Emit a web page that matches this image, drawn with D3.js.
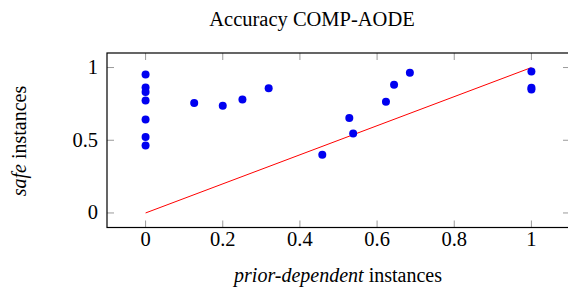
<!DOCTYPE html>
<html>
<head>
<meta charset="utf-8">
<script src="https://cdn.jsdelivr.net/npm/d3@7"></script>
<style>
  body { margin: 0; background: #fff; }
</style>
</head>
<body>
<script>
// points
const priorDep = [0, 0, 0, 0, 0, 0, 0, 0.126, 0.2, 0.251, 0.319,
  0.458, 0.528, 0.538, 0.623, 0.644, 0.685, 1, 1, 1];
const safeVals = [0.952, 0.863, 0.831, 0.774, 0.642, 0.523, 0.464, 0.756, 0.737, 0.781, 0.858,
  0.40, 0.653, 0.546, 0.765, 0.881, 0.964, 0.973, 0.861, 0.849];
const diagLine = [[0, 0], [1, 1]];
const xTicks = [0, 0.2, 0.4, 0.6, 0.8, 1];
const yTicks = [0, 0.5, 1];

const width = 568, height = 294;
const margin = { top: 53, right: -2, bottom: 66.5, left: 107 };
const serif = "'Liberation Serif', 'Times New Roman', 'DejaVu Serif', serif";

const svg = d3.select("body").append("svg")
  .attr("width", width)
  .attr("height", height)
  .attr("font-family", serif);

const x = d3.scaleLinear().domain([-0.1, 1.1]).range([margin.left, width - margin.right]);
const y = d3.scaleLinear().domain([-0.1, 1.1]).range([height - margin.bottom, margin.top]);

const tickLen = 7;
const tickCol = "#9a9a9a";

// ticks on all four sides, pointing inwards
svg.append("g").selectAll("line").data(xTicks).join("line")
  .attr("x1", d => x(d)).attr("x2", d => x(d))
  .attr("y1", y.range()[0]).attr("y2", y.range()[0] - tickLen)
  .attr("stroke", tickCol).attr("stroke-width", 1);
svg.append("g").selectAll("line").data(xTicks).join("line")
  .attr("x1", d => x(d)).attr("x2", d => x(d))
  .attr("y1", y.range()[1]).attr("y2", y.range()[1] + tickLen)
  .attr("stroke", tickCol).attr("stroke-width", 1);
svg.append("g").selectAll("line").data(yTicks).join("line")
  .attr("x1", x.range()[0]).attr("x2", x.range()[0] + tickLen)
  .attr("y1", d => y(d)).attr("y2", d => y(d))
  .attr("stroke", tickCol).attr("stroke-width", 1);
svg.append("g").selectAll("line").data(yTicks).join("line")
  .attr("x1", x.range()[1]).attr("x2", x.range()[1] - tickLen)
  .attr("y1", d => y(d)).attr("y2", d => y(d))
  .attr("stroke", tickCol).attr("stroke-width", 1);

// tick labels
svg.append("g").selectAll("text").data(xTicks).join("text")
  .attr("x", d => x(d)).attr("y", 246)
  .attr("text-anchor", "middle")
  .attr("font-size", 20.5)
  .attr("fill", "#000")
  .text(d => d3.format("~g")(d));
svg.append("g").selectAll("text").data(yTicks).join("text")
  .attr("x", 98).attr("y", d => y(d) + 6.5)
  .attr("text-anchor", "end")
  .attr("font-size", 20.5)
  .attr("fill", "#000")
  .text(d => d3.format("~g")(d));

// diagonal reference line
svg.append("path")
  .datum(diagLine)
  .attr("d", d3.line().x(d => x(d[0])).y(d => y(d[1])))
  .attr("fill", "none")
  .attr("stroke", "#ff0000")
  .attr("stroke-width", 1);

// scatter points
const pts = priorDep.map((v, i) => ({ px: v, py: safeVals[i] }));
svg.append("g").selectAll("circle").data(pts).join("circle")
  .attr("cx", d => x(d.px))
  .attr("cy", d => y(d.py))
  .attr("r", 4)
  .attr("fill", "#0000f0");

// axis frame
svg.append("rect")
  .attr("x", x.range()[0]).attr("y", y.range()[1])
  .attr("width", x.range()[1] - x.range()[0])
  .attr("height", y.range()[0] - y.range()[1])
  .attr("fill", "none")
  .attr("stroke", "#000")
  .attr("stroke-width", 1.2);

// title
svg.append("text")
  .attr("x", 312).attr("y", 26)
  .attr("text-anchor", "middle")
  .attr("font-size", 20.5)
  .text("Accuracy COMP-AODE");

// x label
const xl = svg.append("text")
  .attr("x", 338).attr("y", 282)
  .attr("text-anchor", "middle")
  .attr("font-size", 20);
xl.append("tspan").attr("font-style", "italic").text("prior-dependent");
xl.append("tspan").text(" instances");

// y label
const yl = svg.append("text")
  .attr("transform", "translate(26,141) rotate(-90)")
  .attr("text-anchor", "middle")
  .attr("font-size", 20);
yl.append("tspan").attr("font-style", "italic").text("safe");
yl.append("tspan").text(" instances");
</script>
</body>
</html>
